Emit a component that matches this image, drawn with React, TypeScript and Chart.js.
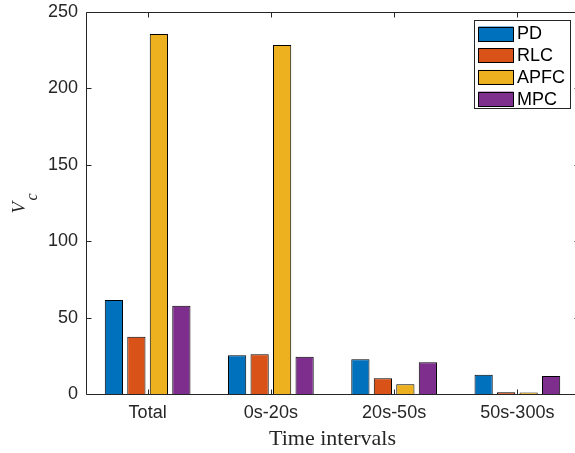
import React, { useEffect, useRef } from "react";
import { Chart, registerables } from "chart.js";

Chart.register(...registerables);

const categories = ["Total", "0s-20s", "20s-50s", "50s-300s"];
const seriesNames = ["PD", "RLC", "APFC", "MPC"];
const pdValues = [61.5, 25.3, 22.7, 12.6];
const rlcValues = [37.5, 26.0, 10.3, 1.1];
const apfcValues = [235.6, 228.4, 6.3, 1.0];
const mpcValues = [57.8, 24.4, 20.7, 11.8];
const seriesColors = ["#0072BD", "#D95319", "#EDB120", "#7E2F8E"];
const yTickValues = [0, 50, 100, 150, 200, 250];
const xTitle = "Time intervals";

const AXIS = "#262626";
const CANVAS_W = 600;
const CANVAS_H = 453;
const AREA = { left: 86, top: 12, right: 579, bottom: 394 };

const matlabPlugin = {
  id: "matlabDecor",
  afterDraw(chart: any) {
    const ctx: CanvasRenderingContext2D = chart.ctx;
    const { left, right, top, bottom } = chart.chartArea;
    const xs = chart.scales.x;
    const ys = chart.scales.y;
    const L = Math.round(left) + 0.5;
    const R = Math.round(right) + 0.5;
    const T = Math.round(top) + 0.5;
    const B = Math.round(bottom) + 0.5;
    ctx.save();
    ctx.strokeStyle = AXIS;
    ctx.lineWidth = 1;
    ctx.beginPath();
    ctx.moveTo(R, T);
    ctx.lineTo(L, T);
    ctx.lineTo(L, B);
    ctx.lineTo(R, B);
    ctx.stroke();
    const tl = 5;
    ctx.beginPath();
    yTickValues.forEach((v) => {
      const py = Math.round(ys.getPixelForValue(v)) + 0.5;
      ctx.moveTo(L, py);
      ctx.lineTo(L + tl, py);
      ctx.moveTo(R, py);
      ctx.lineTo(R - tl, py);
    });
    categories.forEach((_, i) => {
      const px = Math.round(xs.getPixelForValue(i)) + 0.5;
      ctx.moveTo(px, B);
      ctx.lineTo(px, B - tl);
      ctx.moveTo(px, T);
      ctx.lineTo(px, T + tl);
    });
    ctx.stroke();

    // Legend
    const lx = 474.5, ly = 20.5, lw = 96, lh = 88;
    ctx.fillStyle = "#ffffff";
    ctx.fillRect(lx, ly, lw, lh);
    ctx.strokeStyle = AXIS;
    ctx.strokeRect(lx, ly, lw, lh);
    ctx.font = '18px "Liberation Sans", Arial, sans-serif';
    ctx.textBaseline = "middle";
    ctx.textAlign = "left";
    seriesNames.forEach((name, i) => {
      const sy = 26.5 + i * 21.7;
      ctx.fillStyle = seriesColors[i];
      ctx.fillRect(478.5, sy, 35, 14.5);
      ctx.strokeStyle = "#000";
      ctx.strokeRect(478.5, Math.round(sy) + 0.5, 35, 14);
      ctx.fillStyle = "#000";
      ctx.fillText(name, 517, sy + 8);
    });

    // X title
    ctx.fillStyle = AXIS;
    ctx.font = '22px "Liberation Serif", "Times New Roman", serif';
    ctx.textAlign = "center";
    ctx.textBaseline = "alphabetic";
    ctx.fillText(xTitle, (left + right) / 2, 445);

    // Y title V_c
    ctx.save();
    ctx.translate(25, 213.5);
    ctx.rotate(-Math.PI / 2);
    ctx.textAlign = "left";
    ctx.font = 'italic 19px "Liberation Serif", "Times New Roman", serif';
    ctx.fillText("V", 0, 0);
    ctx.font = 'italic 16px "Liberation Serif", "Times New Roman", serif';
    ctx.fillText("c", 13, 12);
    ctx.restore();

    ctx.restore();
  },
};

export default function App() {
  const canvasRef = useRef<HTMLCanvasElement | null>(null);

  useEffect(() => {
    const canvas = canvasRef.current;
    if (!canvas) return;
    const valueSets = [pdValues, rlcValues, apfcValues, mpcValues];
    const chart = new Chart(canvas, {
      type: "bar",
      data: {
        labels: categories,
        datasets: seriesNames.map((name, i) => ({
          label: name,
          data: valueSets[i],
          backgroundColor: seriesColors[i],
          borderColor: "#000000",
          borderWidth: 1,
          categoryPercentage: 0.73,
          barPercentage: 0.81,
        })),
      },
      options: {
        animation: false,
        responsive: false,
        devicePixelRatio: 1,
        layout: {
          padding: { left: 0, top: AREA.top, right: CANVAS_W - AREA.right, bottom: 0 },
        },
        plugins: {
          legend: { display: false },
          tooltip: { enabled: false },
        },
        scales: {
          x: {
            offset: true,
            grid: { display: false, drawTicks: false },
            border: { display: false },
            ticks: {
              color: AXIS,
              font: { family: '"Liberation Sans", Arial, sans-serif', size: 18 },
              padding: 8,
              maxRotation: 0,
              autoSkip: false,
            },
            afterFit: (scale: any) => {
              scale.height = CANVAS_H - AREA.bottom;
              scale.paddingLeft = 0;
              scale.paddingRight = 0;
            },
          },
          y: {
            min: 0,
            max: 250,
            grid: { display: false, drawTicks: false },
            border: { display: false },
            ticks: {
              stepSize: 50,
              color: AXIS,
              font: { family: '"Liberation Sans", Arial, sans-serif', size: 18 },
              padding: 8,
            },
            afterFit: (scale: any) => {
              scale.width = AREA.left;
              scale.paddingTop = 0;
              scale.paddingBottom = 0;
            },
          },
        },
      },
      plugins: [matlabPlugin],
    });
    return () => chart.destroy();
  }, []);

  return (
    <div
      style={{
        position: "fixed",
        left: 0,
        top: 0,
        width: 575,
        height: 453,
        overflow: "hidden",
        background: "#fff",
      }}
    >
      <canvas
        ref={canvasRef}
        width={CANVAS_W}
        height={CANVAS_H}
        style={{ display: "block", width: CANVAS_W, height: CANVAS_H }}
      />
    </div>
  );
}
